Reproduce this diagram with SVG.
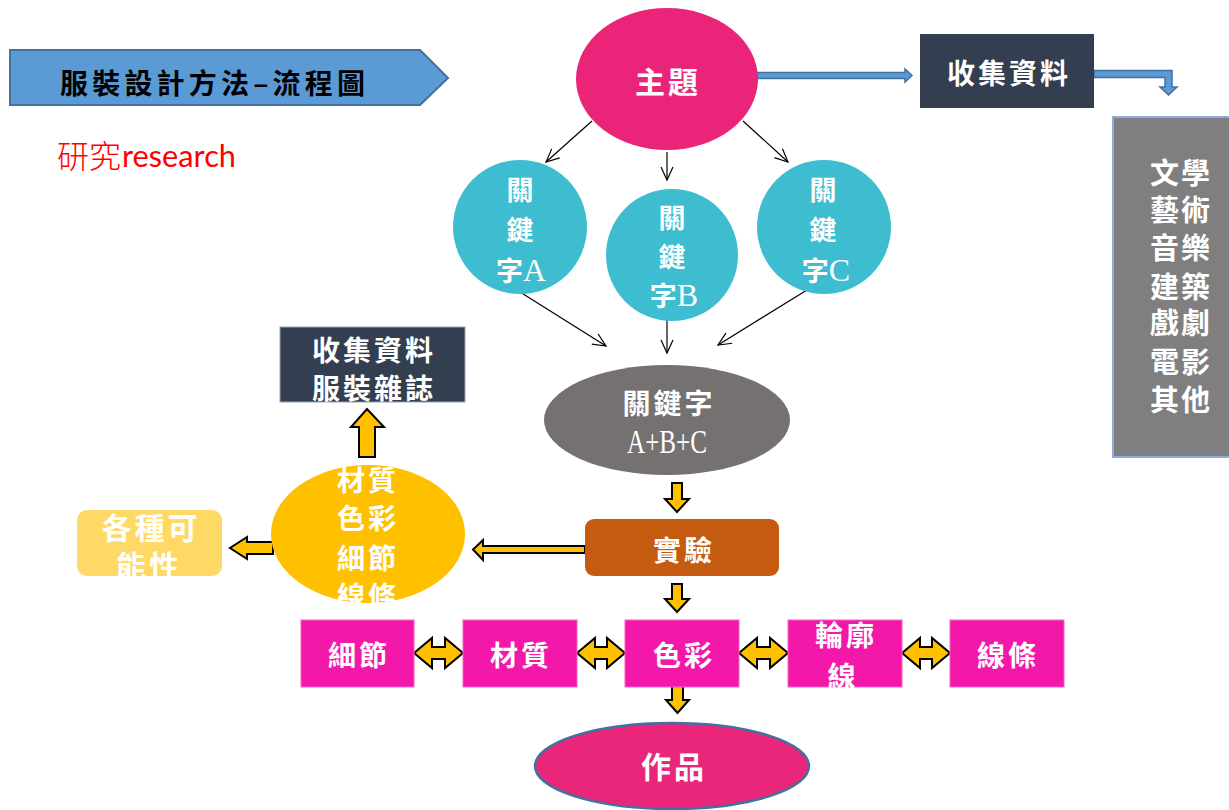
<svg xmlns="http://www.w3.org/2000/svg" width="1229" height="810" viewBox="0 0 1229 810">
<defs>
<style>
.t{fill:#fff;font-family:"Liberation Serif","Noto Sans CJK TC",serif;font-weight:700;text-anchor:middle}
.s28{font-size:28px;letter-spacing:3px}
.s27{font-size:27px}
.s30{font-size:30px;letter-spacing:3px}
.lat{font-weight:400}
.big{font-size:32px}
.ya{fill:#ffc000;stroke:#000;stroke-width:2;stroke-linejoin:miter}
.ba{fill:#5b9bd5;stroke:#41719c;stroke-width:1.5}
.thin{stroke:#000;stroke-width:1.2;fill:none;marker-end:url(#v)}
.mag{fill:#f318aa;stroke:#f560c0;stroke-width:1}
.navy{fill:#333f50}
</style>
<marker id="v" markerUnits="userSpaceOnUse" markerWidth="16" markerHeight="16" viewBox="-1 -8 16 16" refX="13" refY="0" orient="auto">
<path d="M0,-6 L13,0 L0,6" fill="none" stroke="#000" stroke-width="1.2"/>
</marker>
</defs>
<rect width="1229" height="810" fill="#fff"/>

<g id="title">
<path d="M10,50 H420 L448,78 L420,105 H10 Z" fill="#5b9bd5" stroke="#41719c" stroke-width="2"/>
<text x="60" y="94" font-family="'Noto Sans CJK TC',sans-serif" font-weight="700" font-size="28" fill="#000" textLength="305" lengthAdjust="spacing">服裝設計方法–流程圖</text>
</g>

<g id="research">
<text x="57" y="168" font-family="'Noto Sans CJK TC',sans-serif" font-weight="300" font-size="32" fill="#ff0000">研究</text>
<text x="122" y="167" font-family="Lato,'Liberation Sans',sans-serif" font-size="30" fill="#ff0000" textLength="114" lengthAdjust="spacingAndGlyphs">research</text>
</g>

<g id="connectors">
<line class="thin" x1="592" y1="121" x2="546" y2="162"/>
<line class="thin" x1="667" y1="152" x2="667" y2="180"/>
<line class="thin" x1="743" y1="121" x2="788" y2="162"/>
<line class="thin" x1="520" y1="292" x2="606" y2="346"/>
<line class="thin" x1="667" y1="319" x2="667" y2="353"/>
<line class="thin" x1="807" y1="290" x2="718" y2="345"/>
<path class="ba" d="M757,72.5 H905 V69 L912,75.5 L905,82 V78.5 H757 Z"/>
<path class="ba" d="M1094,70.5 H1172 V87 H1177 L1168.5,95 L1160,87 H1165 V77.5 H1094 Z"/>
<path class="ya" d="M672,483 H682 V499 H689 L677,512 L665,499 H672 Z"/>
<path class="ya" d="M672,584 H682 V599 H689 L677,612 L665,599 H672 Z"/>
<path class="ya" d="M672,685 H683 V700 H689 L677.5,713 L666,700 H672 Z"/>
<path class="ya" d="M359,457 V427 H351 L367,409 L384,427 H375 V457 Z"/>
<path class="ya" d="M273,542 H247 V537 L230,548 L247,559 V554 H273 Z"/>
<path class="ya" d="M585,546 H483 V540 L473,549.5 L483,560 V553 H585 Z"/>
<path class="ya" d="M414,653 L432,638 V647 H445 V638 L463,653 L445,668 V659 H432 V668 Z"/>
<path class="ya" d="M577,653 L595,638 V647 H607 V638 L625,653 L607,668 V659 H595 V668 Z"/>
<path class="ya" d="M739,653 L757,638 V647 H770 V638 L788,653 L770,668 V659 H757 V668 Z"/>
<path class="ya" d="M902,653 L920,638 V647 H932 V638 L950,653 L932,668 V659 H920 V668 Z"/>
</g>

<g id="theme">
<ellipse cx="667" cy="79" rx="91" ry="71" fill="#ea2479"/>
<text class="t s30" x="668" y="93">主題</text>
</g>

<g id="collect-top">
<rect class="navy" x="920" y="34" width="174" height="74"/>
<text class="t s28" x="1009" y="84">收集資料</text>
</g>

<g id="fields">
<rect x="1113" y="117" width="118" height="340" fill="#7f7f7f" stroke="#8eaadb" stroke-width="2"/>
<text class="t" font-size="29" letter-spacing="2" x="1181" y="184">文學</text>
<text class="t" font-size="29" letter-spacing="2" x="1181" y="221">藝術</text>
<text class="t" font-size="29" letter-spacing="2" x="1181" y="259">音樂</text>
<text class="t" font-size="29" letter-spacing="2" x="1181" y="298">建築</text>
<text class="t" font-size="29" letter-spacing="2" x="1181" y="334">戲劇</text>
<text class="t" font-size="29" letter-spacing="2" x="1181" y="373">電影</text>
<text class="t" font-size="29" letter-spacing="2" x="1181" y="411">其他</text>
</g>

<g id="keyword-a">
<circle cx="520" cy="227" r="67" fill="#3ebdd0"/>
<text class="t s27" x="520" y="200">關</text>
<text class="t s27" x="520" y="240">鍵</text>
<text class="t s27" x="521" y="281">字<tspan class="lat big">A</tspan></text>
</g>
<g id="keyword-b">
<circle cx="672" cy="255" r="66" fill="#3ebdd0"/>
<text class="t s27" x="672" y="228">關</text>
<text class="t s27" x="672" y="267">鍵</text>
<text class="t s27" x="674" y="306">字<tspan class="lat big">B</tspan></text>
</g>
<g id="keyword-c">
<circle cx="824" cy="227" r="67" fill="#3ebdd0"/>
<text class="t s27" x="823" y="200">關</text>
<text class="t s27" x="823" y="240">鍵</text>
<text class="t s27" x="826" y="281">字<tspan class="lat big">C</tspan></text>
</g>

<g id="keyword-abc">
<ellipse cx="667" cy="420" rx="123" ry="55" fill="#767171"/>
<text class="t s28" x="669" y="414">關鍵字</text>
<text class="t lat" font-size="34" x="667" y="453" textLength="80" lengthAdjust="spacingAndGlyphs">A+B+C</text>
</g>

<g id="experiment">
<rect x="585" y="519" width="194" height="57" rx="9" fill="#c55a11"/>
<text class="t s28" x="684" y="561">實驗</text>
</g>

<g id="elements">
<ellipse cx="368" cy="534" rx="97" ry="69" fill="#ffc000"/>
<text class="t s28" x="368" y="491">材質</text>
<text class="t s28" x="368" y="529">色彩</text>
<text class="t s28" x="368" y="569">細節</text>
<text class="t s28" x="368" y="607">線條</text>
</g>

<g id="collect-magazine">
<rect class="navy" x="280" y="327" width="185" height="75" stroke="#9aa3b3" stroke-width="1"/>
<text class="t s28" x="374" y="361">收集資料</text>
<text class="t s28" x="374" y="399">服裝雜誌</text>
</g>

<g id="possibilities">
<rect x="77" y="510" width="145" height="66" rx="10" fill="#ffd966"/>
<text class="t s30" x="151" y="539">各種可</text>
<text class="t s30" x="149" y="577">能性</text>
</g>

<g id="detail"><rect class="mag" x="301" y="620" width="113" height="67"/><text class="t s28" x="359" y="666">細節</text></g>
<g id="material"><rect class="mag" x="463" y="620" width="114" height="67"/><text class="t s28" x="521" y="666">材質</text></g>
<g id="color"><rect class="mag" x="625" y="620" width="114" height="67"/><text class="t s28" x="684" y="666">色彩</text></g>
<g id="outline"><rect class="mag" x="788" y="620" width="114" height="67"/><text class="t s28" x="846" y="646">輪廓</text><text class="t s28" x="843" y="687">線</text></g>
<g id="lines"><rect class="mag" x="950" y="620" width="114" height="67"/><text class="t s28" x="1008" y="666">線條</text></g>

<g id="work">
<ellipse cx="672" cy="766" rx="137" ry="43" fill="#e9267a" stroke="#41719c" stroke-width="2.5"/>
<text class="t s30" x="674" y="778">作品</text>
</g>
</svg>
